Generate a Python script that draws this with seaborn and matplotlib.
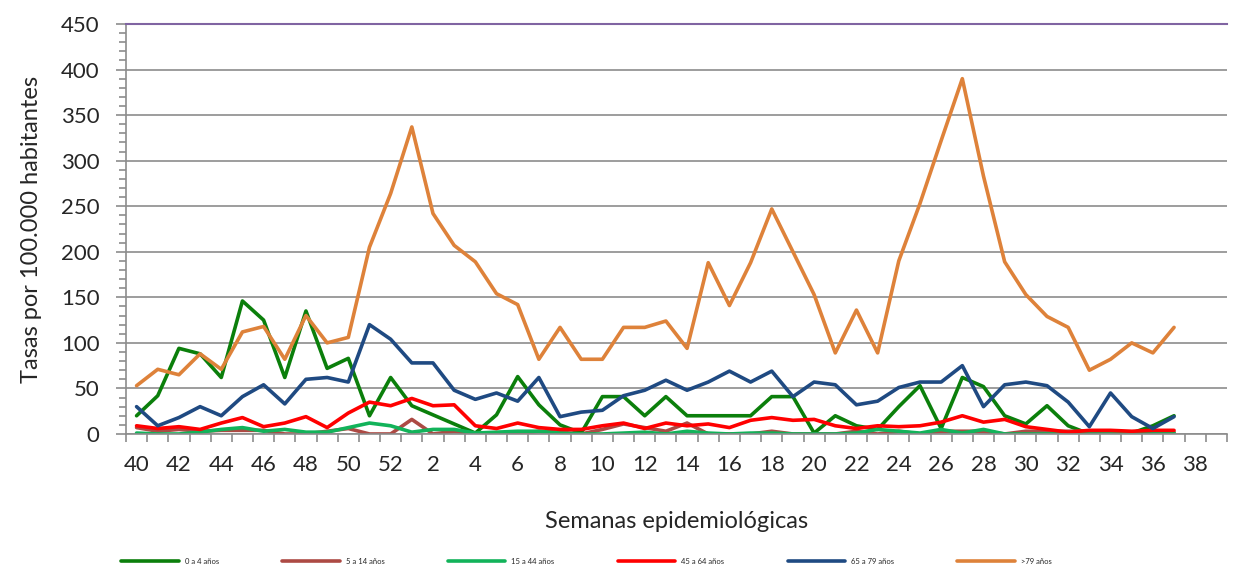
import numpy as np
import pandas as pd
import matplotlib
matplotlib.use("Agg")
import matplotlib.pyplot as plt
import seaborn as sns
from matplotlib.ticker import MultipleLocator, FixedLocator

# epidemiological weeks 40..52 then 1..39 (data stops at week 37)
WEEKS = list(range(40, 53)) + list(range(1, 40))

SERIES = ["0 a 4 años", "5 a 14 años", "15 a 44 años",
          "45 a 64 años", "65 a 79 años", ">79 años"]
COLORS = ["#0B7F0B", "#AD4A44", "#12B35A", "#FF0000", "#1F4A82", "#DE823A"]

g0_4 = [20, 42, 94, 88, 62, 146, 125, 62, 135, 72, 83, 20, 62,
        31, 21, 11, 1, 21, 63, 32, 10, 1, 41, 41, 20, 41, 20, 20, 20, 20,
        41, 41, 1, 20, 9, 5, 30, 53, 6, 62, 52, 20, 11, 31, 9, 0, 0, 1, 9, 20]
g5_14 = [7, 3, 5, 3, 4, 4, 4, 0, 0, 3, 6, 0, 0,
         16, 0, 3, 0, 0, 0, 3, 2, 0, 5, 11, 7, 3, 12, 0, 0, 0,
         3, 0, 0, 0, 3, 0, 3, 0, 3, 3, 3, 0, 3, 3, 3, 3, 2, 2, 2, 2]
g15_44 = [1, 0, 0, 2, 5, 7, 3, 5, 2, 2, 7, 12, 9,
          2, 5, 5, 1, 2, 3, 3, 1, 0, 0, 1, 2, 0, 3, 1, 0, 1,
          1, 0, 0, 0, 1, 5, 3, 1, 5, 1, 5, 0, 0, 0, 0, 0, 0, 0, 1, 1]
g45_64 = [9, 6, 8, 5, 12, 18, 8, 12, 19, 7, 23, 35, 31,
          39, 31, 32, 9, 6, 12, 7, 5, 5, 9, 12, 6, 12, 9, 11, 7, 15,
          18, 15, 16, 9, 6, 9, 8, 9, 13, 20, 13, 16, 8, 5, 2, 4, 4, 3, 4, 4]
g65_79 = [30, 9, 18, 30, 20, 41, 54, 33, 60, 62, 57, 120, 104,
          78, 78, 48, 38, 45, 36, 62, 19, 24, 26, 42, 48, 59, 48, 57, 69, 57,
          69, 41, 57, 54, 32, 36, 51, 57, 57, 75, 30, 54, 57, 53, 35, 8, 45, 19, 6, 19]
g79 = [53, 71, 65, 88, 71, 112, 118, 82, 130, 100, 106, 205, 264,
       337, 242, 207, 189, 154, 142, 82, 117, 82, 82, 117, 117, 124, 94, 188, 141, 188,
       247, 200, 153, 89, 136, 89, 190, 253, 322, 390, 283, 189, 153, 129, 117, 70, 82, 100, 89, 117]

VALUES = [g0_4, g5_14, g15_44, g45_64, g65_79, g79]

rows = []
for name, vals in zip(SERIES, VALUES):
    for i, v in enumerate(vals):
        rows.append({"pos": i, "week": WEEKS[i], "grupo": name, "tasa": v})
df = pd.DataFrame(rows)

sns.set_style("white")
plt.rcParams["font.family"] = ["Lato", "DejaVu Sans"]

fig = plt.figure(figsize=(12.4, 5.65), dpi=100)
ax = fig.add_axes([0.1016, 0.2319, 0.8879, 0.7256])

sns.lineplot(data=df, x="pos", y="tasa", hue="grupo", hue_order=SERIES,
             palette=COLORS, linewidth=2.6, estimator=None, legend=False, ax=ax)

ax.set_xlim(-0.5, len(WEEKS) - 0.5)
ax.set_ylim(0, 450)

# y axis
ax.yaxis.set_major_locator(MultipleLocator(50))
ax.yaxis.set_minor_locator(MultipleLocator(10))
ax.grid(axis="y", which="major", color="#8C8C8C", linewidth=1.2)
ax.grid(axis="x", visible=False)
ax.set_axisbelow(True)

# x axis: labels every second week, ticks between categories
label_pos = [i for i, w in enumerate(WEEKS) if w % 2 == 0]
ax.xaxis.set_major_locator(FixedLocator(label_pos))
ax.set_xticklabels([str(WEEKS[i]) for i in label_pos])
ax.xaxis.set_minor_locator(FixedLocator(np.arange(-0.5, len(WEEKS), 1.0)))

ax.tick_params(axis="x", which="major", length=0, pad=15, labelsize=16)
ax.tick_params(axis="x", which="minor", length=6, width=1.2, color="#8C8C8C",
               direction="out", bottom=True)
ax.tick_params(axis="y", which="major", length=7, width=1.2, color="#8C8C8C",
               direction="out", labelsize=16, pad=12, left=True)
ax.tick_params(axis="y", which="minor", length=5, width=1.2, color="#8C8C8C",
               direction="out", left=True)

for side in ["left", "bottom"]:
    ax.spines[side].set_color("#8C8C8C")
    ax.spines[side].set_linewidth(1.2)
ax.spines["right"].set_visible(False)
ax.spines["top"].set_color("#8064A2")
ax.spines["top"].set_linewidth(1.5)

ax.set_xlabel("Semanas epidemiológicas", fontsize=17, labelpad=26)
ax.set_ylabel("Tasas por 100.000 habitantes", fontsize=17, labelpad=14)

handles = ax.get_lines()[:len(SERIES)]
fig.legend(handles, SERIES, loc="lower center", bbox_to_anchor=(0.473, -0.012),
           ncol=6, frameon=False, fontsize=5.5, handlelength=7.5,
           handletextpad=0.8, columnspacing=8.3)

fig.savefig("out.png", dpi=100)
